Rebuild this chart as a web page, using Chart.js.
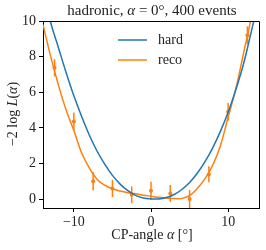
<!DOCTYPE html>
<html>
<head>
<meta charset="utf-8">
<script src="https://cdn.jsdelivr.net/npm/chart.js@4.4.0/dist/chart.umd.min.js"></script>
<style>
  html, body { margin: 0; padding: 0; background: #fff; }
  canvas { display: block; }
</style>
</head>
<body>
<canvas id="chart" width="266" height="250"></canvas>
<script>
// kurva likelihood (langkah 1 derajat)
const curveX = [-14, -13, -12, -11, -10, -9, -8, -7, -6, -5, -4, -3, -2, -1, 0, 1, 2, 3, 4, 5, 6, 7, 8, 9, 10, 11, 12, 13, 14];
const hardY  = [11.6, 9.9, 8.5, 7.1, 5.8, 4.65, 3.6, 2.7, 1.96, 1.33, 0.84, 0.47, 0.21, 0.06, 0.01, 0.01, 0.09, 0.26, 0.54, 0.93, 1.45, 2.1, 2.88, 3.8, 4.87, 6.15, 7.6, 9.4, 11.2];
const recoY  = [9.8, 8.0, 6.4, 5.0, 3.85, 2.6, 1.75, 1.12, 0.78, 0.58, 0.45, 0.36, 0.3, 0.22, 0.16, 0.1, 0.06, 0.03, 0.04, 0.2, 0.6, 1.15, 1.9, 3.0, 4.6, 6.2, 8.2, 10.2, 12.5];

// titik reco dengan error bar
const pointX   = [-12.5, -10, -7.5, -5, -2.5, 0, 2.5, 5, 7.5, 10, 12.5];
const pointY   = [7.37, 4.36, 1.0, 0.6, 0.24, 0.47, 0.32, 0.0, 1.4, 4.9, 9.2];
const pointErr = [0.48, 0.5, 0.52, 0.48, 0.47, 0.5, 0.47, 0.51, 0.45, 0.5, 0.5];

const xTicks = [-10, 0, 10];
const yTicks = [0, 2, 4, 6, 8, 10];

const BLUE = '#1f77b4';
const ORANGE = '#ff7f0e';
const SERIF = '"Liberation Serif", "DejaVu Serif", serif';

// gambar teks campuran (normal + italic)
function drawRich(ctx, parts, x, y, size) {
    let total = 0;
    parts.forEach(p => {
        ctx.font = (p[1] ? 'italic ' : '') + size + 'px ' + SERIF;
        total += ctx.measureText(p[0]).width;
    });
    let cx = x - total / 2;
    ctx.textAlign = 'left';
    ctx.textBaseline = 'middle';
    parts.forEach(p => {
        ctx.font = (p[1] ? 'italic ' : '') + size + 'px ' + SERIF;
        ctx.fillText(p[0], cx, y);
        cx += ctx.measureText(p[0]).width;
    });
}

const errorBars = {
    id: 'errorBars',
    beforeDatasetDraw(chart, args) {
        if (args.index !== 2) return;
        const { ctx, chartArea, scales } = chart;
        ctx.save();
        ctx.beginPath();
        ctx.rect(chartArea.left, chartArea.top, chartArea.right - chartArea.left, chartArea.bottom - chartArea.top);
        ctx.clip();
        ctx.strokeStyle = ORANGE;
        ctx.lineWidth = 1.5;
        pointX.forEach((x, i) => {
            const px = scales.x.getPixelForValue(x);
            ctx.beginPath();
            ctx.moveTo(px, scales.y.getPixelForValue(pointY[i] - pointErr[i]));
            ctx.lineTo(px, scales.y.getPixelForValue(pointY[i] + pointErr[i]));
            ctx.stroke();
        });
        ctx.restore();
    }
};

const decorations = {
    id: 'decorations',
    afterDraw(chart) {
        const { ctx, chartArea } = chart;
        ctx.save();
        // bingkai atas & kanan
        ctx.strokeStyle = '#000';
        ctx.lineWidth = 1;
        ctx.beginPath();
        ctx.moveTo(chartArea.left, chartArea.top + 0.5);
        ctx.lineTo(chartArea.right + 0.5, chartArea.top + 0.5);
        ctx.lineTo(chartArea.right + 0.5, chartArea.bottom);
        ctx.stroke();

        ctx.fillStyle = '#222';
        drawRich(ctx, [['hadronic, ', false], ['α', true], [' = 0°, 400 events', false]], 152, 11, 15);
        drawRich(ctx, [['CP-angle ', false], ['α', true], [' [°]', false]], 152, 235, 14);

        ctx.save();
        ctx.translate(13, 114);
        ctx.rotate(-Math.PI / 2);
        drawRich(ctx, [['−2 log ', false], ['L', true], ['(', false], ['α', true], [')', false]], 0, 0, 14);
        ctx.restore();

        // legenda
        const legend = [['hard', BLUE, 40], ['reco', ORANGE, 60]];
        legend.forEach(([label, color, y]) => {
            ctx.strokeStyle = color;
            ctx.lineWidth = 1.5;
            ctx.beginPath();
            ctx.moveTo(118, y);
            ctx.lineTo(147, y);
            ctx.stroke();
            ctx.fillStyle = '#222';
            ctx.font = '14px ' + SERIF;
            ctx.textAlign = 'left';
            ctx.textBaseline = 'middle';
            ctx.fillText(label, 158, y);
        });
        ctx.restore();
    }
};

const fmt = v => (v < 0 ? '−' + Math.abs(v) : String(v));

new Chart(document.getElementById('chart'), {
    type: 'line',
    data: {
        datasets: [
            {
                label: 'hard',
                data: curveX.map((x, i) => ({ x, y: hardY[i] })),
                borderColor: BLUE,
                borderWidth: 1.5,
                pointRadius: 0,
                tension: 0.4
            },
            {
                label: 'reco',
                data: curveX.map((x, i) => ({ x, y: recoY[i] })),
                borderColor: ORANGE,
                borderWidth: 1.5,
                pointRadius: 0,
                tension: 0.4
            },
            {
                label: 'reco points',
                data: pointX.map((x, i) => ({ x, y: pointY[i] })),
                showLine: false,
                pointRadius: 2,
                pointBackgroundColor: ORANGE,
                pointBorderColor: ORANGE,
                pointBorderWidth: 0
            }
        ]
    },
    options: {
        responsive: false,
        devicePixelRatio: 1,
        animation: false,
        layout: { padding: { top: 21, right: 7, left: 0, bottom: 0 } },
        plugins: { legend: { display: false }, tooltip: { enabled: false } },
        scales: {
            x: {
                type: 'linear',
                min: -14,
                max: 14,
                afterBuildTicks: s => { s.ticks = xTicks.map(v => ({ value: v })); },
                afterFit: s => { s.height = 42; },
                ticks: { callback: fmt, color: '#222', padding: 2, maxRotation: 0, font: { family: SERIF, size: 14 } },
                grid: { drawOnChartArea: false, drawTicks: true, tickLength: 4, color: '#000' },
                border: { display: true, color: '#000', width: 1 }
            },
            y: {
                min: -0.5,
                max: 10,
                afterBuildTicks: s => { s.ticks = yTicks.map(v => ({ value: v })); },
                afterFit: s => { s.width = 43; },
                ticks: { callback: fmt, color: '#222', padding: 3, font: { family: SERIF, size: 14 } },
                grid: { drawOnChartArea: false, drawTicks: true, tickLength: 4, color: '#000' },
                border: { display: true, color: '#000', width: 1 }
            }
        }
    },
    plugins: [errorBars, decorations]
});
</script>
</body>
</html>
